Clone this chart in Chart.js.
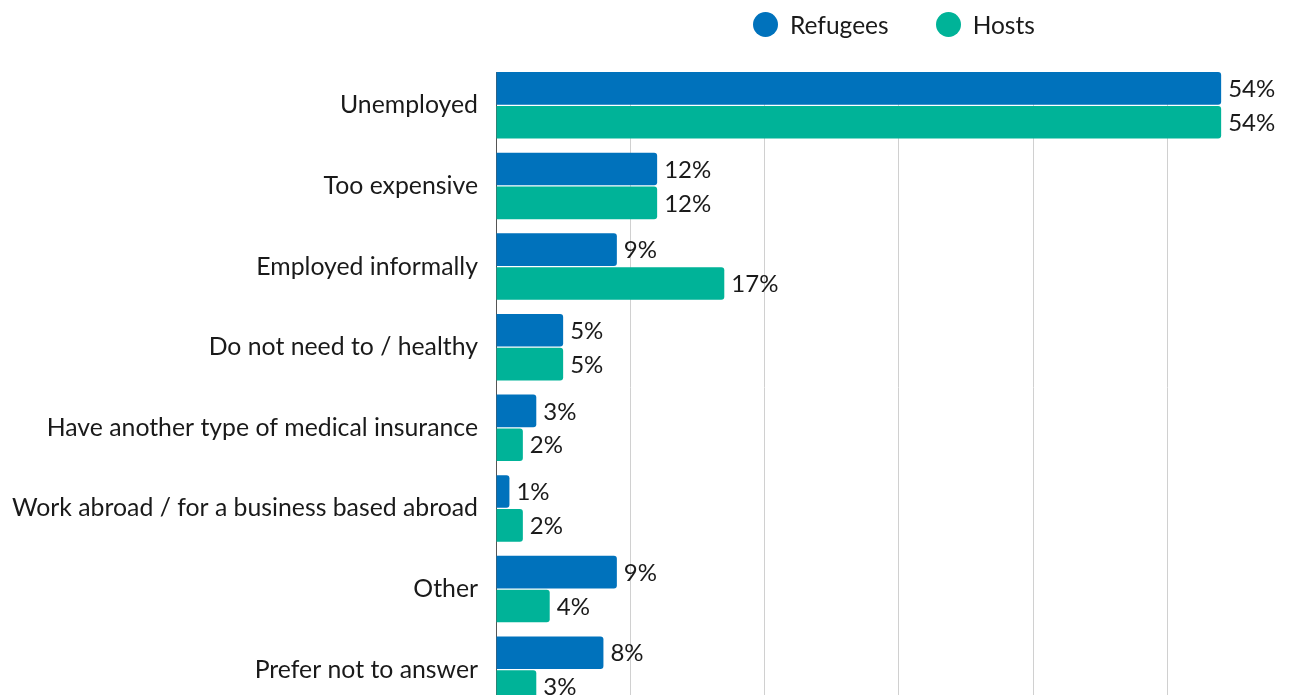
<!DOCTYPE html>
<html>
<head>
<meta charset="utf-8">
<script src="https://cdn.jsdelivr.net/npm/chart.js@4.4.1/dist/chart.umd.min.js"></script>
<style>
  body { margin: 0; overflow: hidden; background: #fff; font-family: Lato, sans-serif; }
  #wrap { position: relative; width: 1295px; height: 710px; }
  #legend { position: absolute; top: 10px; left: 753px; font-size: 24.5px; color: #1a1a1a; white-space: nowrap; }
  #legend span.item { display: inline-flex; align-items: center; margin-right: 47px; }
  #legend span.dot { width: 25px; height: 25px; border-radius: 50%; margin-right: 12px; display: inline-block; }
</style>
</head>
<body>
<div id="wrap">
  <canvas id="mycanvas" width="1295" height="710"></canvas>
  <div id="legend"></div>
</div>
<script>
var reasons = [
    'Unemployed',
    'Too expensive',
    'Employed informally',
    'Do not need to / healthy',
    'Have another type of medical insurance',
    'Work abroad / for a business based abroad',
    'Other',
    'Prefer not to answer'
];
var refugees = [54, 12, 9, 5, 3, 1, 9, 8];
var hosts = [54, 12, 17, 5, 2, 2, 4, 3];
var seriesNames = ['Refugees', 'Hosts'];
var seriesColors = ['#0072BC', '#00B398'];

var labelFont = '24px Lato';

// grid and axis line start at the top of the first bar
var trimTop = {
    id: 'trimTop',
    beforeDatasetsDraw: function(chart) {
        var first = chart.getDatasetMeta(0).data[0];
        var area = chart.chartArea;
        var top = first.y - first.height / 2;
        var ctx = chart.ctx;
        ctx.save();
        ctx.fillStyle = '#fff';
        ctx.fillRect(area.left - 3, area.top - 2, area.right - area.left + 6, top - area.top + 2);
        ctx.restore();
    }
};

// value labels just past the end of each bar
var barValues = {
    id: 'barValues',
    afterDatasetsDraw: function(chart) {
        var ctx = chart.ctx;
        ctx.save();
        ctx.font = labelFont;
        ctx.fillStyle = '#1a1a1a';
        ctx.textBaseline = 'middle';
        ctx.textAlign = 'left';
        chart.data.datasets.forEach(function(ds, i) {
            chart.getDatasetMeta(i).data.forEach(function(bar, j) {
                ctx.fillText(ds.data[j] + '%', bar.x + 7, bar.y + 1);
            });
        });
        ctx.restore();
    }
};

var chartdata = {
    labels: reasons,
    datasets: [
        { label: seriesNames[0], data: refugees, backgroundColor: seriesColors[0] },
        { label: seriesNames[1], data: hosts, backgroundColor: seriesColors[1] }
    ]
};

var ctx = document.getElementById('mycanvas');

var barGraph = new Chart(ctx, {
    type: 'bar',
    data: chartdata,
    plugins: [trimTop, barValues],
    options: {
        indexAxis: 'y',
        responsive: false,
        animation: false,
        categoryPercentage: 0.84,
        barPercentage: 0.965,
        borderRadius: 3,
        layout: { padding: { top: 65, left: 0, right: 0, bottom: 0 } },
        plugins: {
            legend: { display: false },
            tooltip: { enabled: false }
        },
        scales: {
            x: {
                min: 0,
                max: 59.5,
                afterFit: function(scale) { scale.height = 0; },
                ticks: { display: false, stepSize: 10 },
                grid: { color: '#d0d0d0', lineWidth: 1, drawTicks: false },
                border: { display: false }
            },
            y: {
                afterFit: function(scale) {
                    scale.width = 496;
                    scale.paddingTop = 0;
                    scale.paddingBottom = 0;
                },
                ticks: { color: '#1a1a1a', font: { family: 'Lato', size: 24.8 }, padding: 18 },
                grid: { display: false, drawTicks: false },
                border: { display: true, color: '#555', width: 1 }
            }
        }
    }
});

// legend above the plot area
var legend = document.getElementById('legend');
seriesNames.forEach(function(name, i) {
    var item = document.createElement('span');
    item.className = 'item';
    var dot = document.createElement('span');
    dot.className = 'dot';
    dot.style.background = seriesColors[i];
    item.appendChild(dot);
    item.appendChild(document.createTextNode(name));
    legend.appendChild(item);
});
</script>
</body>
</html>
